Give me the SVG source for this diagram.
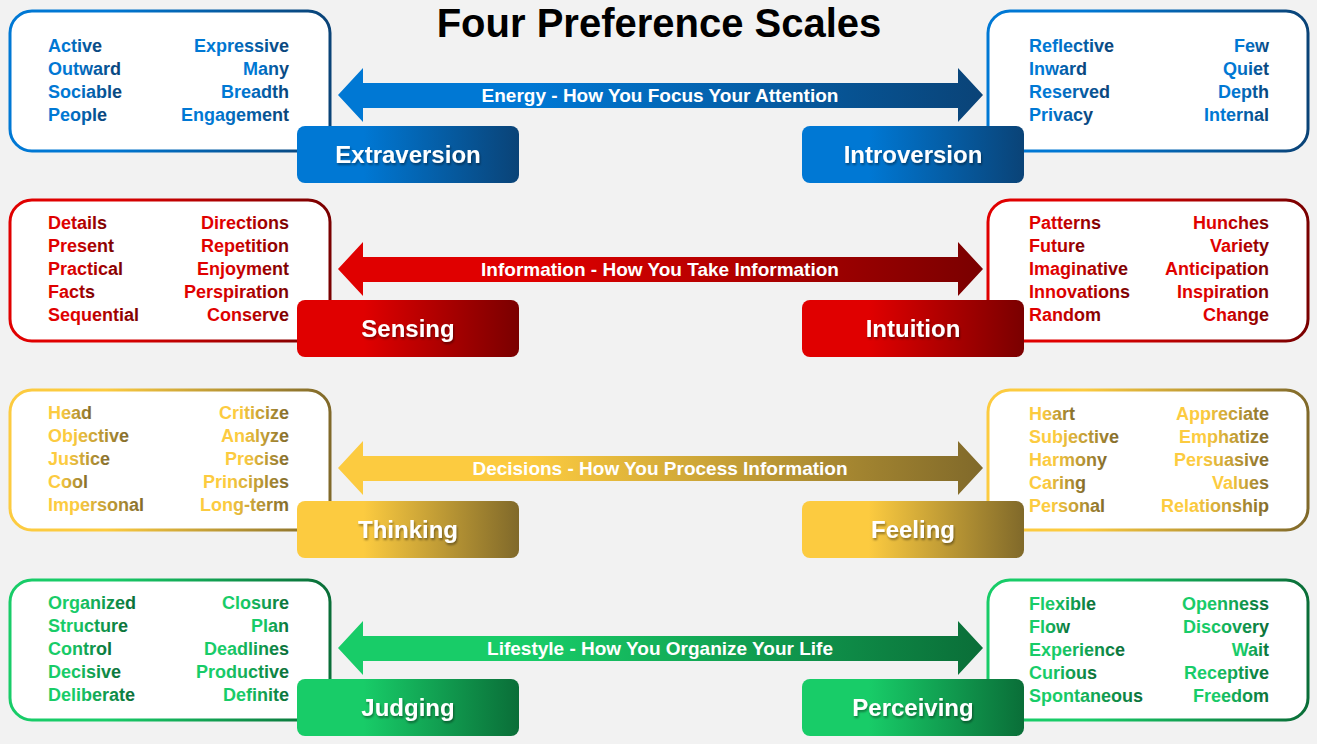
<svg xmlns="http://www.w3.org/2000/svg" width="1317" height="744" viewBox="0 0 1317 744">
<defs>
<linearGradient id="gb" x1="0" x2="1" y1="0" y2="0"><stop offset="0.3" stop-color="#0078D4"/><stop offset="1" stop-color="#0A4377"/></linearGradient>
<linearGradient id="gr" x1="0" x2="1" y1="0" y2="0"><stop offset="0.3" stop-color="#E00000"/><stop offset="1" stop-color="#7A0000"/></linearGradient>
<linearGradient id="gy" x1="0" x2="1" y1="0" y2="0"><stop offset="0.3" stop-color="#FCCB40"/><stop offset="1" stop-color="#80692A"/></linearGradient>
<linearGradient id="gg" x1="0" x2="1" y1="0" y2="0"><stop offset="0.3" stop-color="#18CC68"/><stop offset="1" stop-color="#0A6E38"/></linearGradient>
<filter id="sh" x="-10%" y="-10%" width="120%" height="130%"><feDropShadow dx="1" dy="2" stdDeviation="1" flood-opacity="0.4"/></filter>
</defs>
<style>
text{font-family:"Liberation Sans",Arial,sans-serif;font-weight:bold}
.w{font-size:18px}
.r{text-anchor:end}
.lab{font-size:24px;fill:#fff;text-anchor:middle;filter:url(#sh)}
.al{font-size:19px;fill:#fff;text-anchor:middle}
.box{fill:#fff;stroke-width:3}
</style>
<rect width="1317" height="744" fill="#F2F2F2"/>
<text x="659" y="37" font-size="40" text-anchor="middle" fill="#000">Four Preference Scales</text>

<g id="connectors">
<path d="M338,95 L363,68 V83 H958 V68 L983,95 L958,122 V108 H363 V122 Z" fill="url(#gb)"/>
<path d="M338,269 L363,242 V257 H958 V242 L983,269 L958,296 V282 H363 V296 Z" fill="url(#gr)"/>
<path d="M338,468 L363,441 V456 H958 V441 L983,468 L958,495 V481 H363 V495 Z" fill="url(#gy)"/>
<path d="M338,648 L363,621 V636 H958 V621 L983,648 L958,675 V661 H363 V675 Z" fill="url(#gg)"/>
<text class="al" x="660" y="102">Energy - How You Focus Your Attention</text>
<text class="al" x="660" y="276">Information - How You Take Information</text>
<text class="al" x="660" y="475">Decisions - How You Process Information</text>
<text class="al" x="660" y="655">Lifestyle - How You Organize Your Life</text>
</g>

<g id="extraversion">
<rect class="box" x="10" y="11" width="320" height="140" rx="22" stroke="url(#gb)"/>
<g fill="url(#gb)" class="w"><text x="48" y="52">Active</text><text x="48" y="75">Outward</text><text x="48" y="98">Sociable</text><text x="48" y="121">People</text>
<text class="r" x="289" y="52">Expressive</text><text class="r" x="289" y="75">Many</text><text class="r" x="289" y="98">Breadth</text><text class="r" x="289" y="121">Engagement</text></g>
<rect x="297" y="126" width="222" height="57" rx="8" fill="url(#gb)"/><text class="lab" x="408" y="163">Extraversion</text>
</g>
<g id="introversion">
<rect class="box" x="988" y="11" width="320" height="140" rx="22" stroke="url(#gb)"/>
<g fill="url(#gb)" class="w"><text x="1029" y="52">Reflective</text><text x="1029" y="75">Inward</text><text x="1029" y="98">Reserved</text><text x="1029" y="121">Privacy</text>
<text class="r" x="1269" y="52">Few</text><text class="r" x="1269" y="75">Quiet</text><text class="r" x="1269" y="98">Depth</text><text class="r" x="1269" y="121">Internal</text></g>
<rect x="802" y="126" width="222" height="57" rx="8" fill="url(#gb)"/><text class="lab" x="913" y="163">Introversion</text>
</g>

<g id="sensing">
<rect class="box" x="10" y="200" width="320" height="141" rx="22" stroke="url(#gr)"/>
<g fill="url(#gr)" class="w"><text x="48" y="229">Details</text><text x="48" y="252">Present</text><text x="48" y="275">Practical</text><text x="48" y="298">Facts</text><text x="48" y="321">Sequential</text>
<text class="r" x="289" y="229">Directions</text><text class="r" x="289" y="252">Repetition</text><text class="r" x="289" y="275">Enjoyment</text><text class="r" x="289" y="298">Perspiration</text><text class="r" x="289" y="321">Conserve</text></g>
<rect x="297" y="300" width="222" height="57" rx="8" fill="url(#gr)"/><text class="lab" x="408" y="337">Sensing</text>
</g>
<g id="intuition">
<rect class="box" x="988" y="200" width="320" height="141" rx="22" stroke="url(#gr)"/>
<g fill="url(#gr)" class="w"><text x="1029" y="229">Patterns</text><text x="1029" y="252">Future</text><text x="1029" y="275">Imaginative</text><text x="1029" y="298">Innovations</text><text x="1029" y="321">Random</text>
<text class="r" x="1269" y="229">Hunches</text><text class="r" x="1269" y="252">Variety</text><text class="r" x="1269" y="275">Anticipation</text><text class="r" x="1269" y="298">Inspiration</text><text class="r" x="1269" y="321">Change</text></g>
<rect x="802" y="300" width="222" height="57" rx="8" fill="url(#gr)"/><text class="lab" x="913" y="337">Intuition</text>
</g>

<g id="thinking">
<rect class="box" x="10" y="390" width="320" height="140" rx="22" stroke="url(#gy)"/>
<g fill="url(#gy)" class="w"><text x="48" y="419">Head</text><text x="48" y="442">Objective</text><text x="48" y="465">Justice</text><text x="48" y="488">Cool</text><text x="48" y="511">Impersonal</text>
<text class="r" x="289" y="419">Criticize</text><text class="r" x="289" y="442">Analyze</text><text class="r" x="289" y="465">Precise</text><text class="r" x="289" y="488">Principles</text><text class="r" x="289" y="511">Long-term</text></g>
<rect x="297" y="501" width="222" height="57" rx="8" fill="url(#gy)"/><text class="lab" x="408" y="538">Thinking</text>
</g>
<g id="feeling">
<rect class="box" x="988" y="390" width="320" height="140" rx="22" stroke="url(#gy)"/>
<g fill="url(#gy)" class="w"><text x="1029" y="420">Heart</text><text x="1029" y="443">Subjective</text><text x="1029" y="466">Harmony</text><text x="1029" y="489">Caring</text><text x="1029" y="512">Personal</text>
<text class="r" x="1269" y="420">Appreciate</text><text class="r" x="1269" y="443">Emphatize</text><text class="r" x="1269" y="466">Persuasive</text><text class="r" x="1269" y="489">Values</text><text class="r" x="1269" y="512">Relationship</text></g>
<rect x="802" y="501" width="222" height="57" rx="8" fill="url(#gy)"/><text class="lab" x="913" y="538">Feeling</text>
</g>

<g id="judging">
<rect class="box" x="10" y="580" width="320" height="140" rx="22" stroke="url(#gg)"/>
<g fill="url(#gg)" class="w"><text x="48" y="609">Organized</text><text x="48" y="632">Structure</text><text x="48" y="655">Control</text><text x="48" y="678">Decisive</text><text x="48" y="701">Deliberate</text>
<text class="r" x="289" y="609">Closure</text><text class="r" x="289" y="632">Plan</text><text class="r" x="289" y="655">Deadlines</text><text class="r" x="289" y="678">Productive</text><text class="r" x="289" y="701">Definite</text></g>
<rect x="297" y="679" width="222" height="57" rx="8" fill="url(#gg)"/><text class="lab" x="408" y="716">Judging</text>
</g>
<g id="perceiving">
<rect class="box" x="988" y="580" width="320" height="140" rx="22" stroke="url(#gg)"/>
<g fill="url(#gg)" class="w"><text x="1029" y="610">Flexible</text><text x="1029" y="633">Flow</text><text x="1029" y="656">Experience</text><text x="1029" y="679">Curious</text><text x="1029" y="702">Spontaneous</text>
<text class="r" x="1269" y="610">Openness</text><text class="r" x="1269" y="633">Discovery</text><text class="r" x="1269" y="656">Wait</text><text class="r" x="1269" y="679">Receptive</text><text class="r" x="1269" y="702">Freedom</text></g>
<rect x="802" y="679" width="222" height="57" rx="8" fill="url(#gg)"/><text class="lab" x="913" y="716">Perceiving</text>
</g>
</svg>
